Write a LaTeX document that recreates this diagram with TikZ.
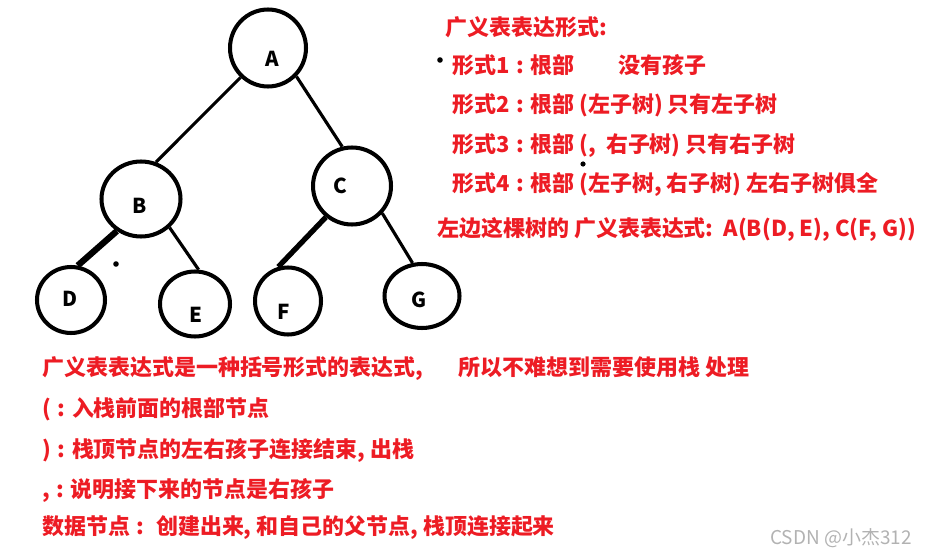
\documentclass[tikz,border=0pt]{standalone}
\usepackage{fontspec}
\setmainfont{Noto Sans CJK SC}
\usepackage{xcolor}
\usepackage{tikz}
\usetikzlibrary{shapes.geometric}
\definecolor{notered}{RGB}{237,28,36}
\definecolor{markgray}{RGB}{178,178,178}
\newcommand{\kcolon}{\hspace{.3em}:\hspace{.3em}}

\begin{document}
\begin{tikzpicture}[x=0.02cm,y=-0.02cm,
    vtx/.style={draw,ellipse,line width=2.3pt,inner sep=0pt},
    lbl/.style={inner sep=0pt,font=\bfseries\fontsize{11.7}{13}\selectfont},
    edge/.style={line width=1.8pt},
    txt/.style={anchor=west,inner sep=0pt,text=notered,
      font=\bfseries\fontsize{12.5}{14}\selectfont}]
  \useasboundingbox (0,0) rectangle (932,557);
  % the tree
  \node[vtx,minimum width=1.52cm,minimum height=1.54cm] (A) at (268,48) {};
  \node[vtx,minimum width=1.58cm,minimum height=1.50cm] (B) at (141,199) {};
  \node[vtx,minimum width=1.56cm,minimum height=1.54cm] (C) at (352,186) {};
  \node[vtx,minimum width=1.36cm,minimum height=1.32cm] (D) at (71,300) {};
  \node[vtx,minimum width=1.40cm,minimum height=1.30cm] (E) at (195,304) {};
  \node[vtx,minimum width=1.32cm,minimum height=1.34cm] (F) at (288,301) {};
  \node[vtx,minimum width=1.50cm,minimum height=1.28cm] (G) at (422,296) {};
  \node[lbl] (la) at (272,59) {A};
  \node[lbl] (lb) at (140,206) {B};
  \node[lbl] (lc) at (340,186) {C};
  \node[lbl] (ld) at (70,299) {D};
  \node[lbl] (le) at (196,315) {E};
  \node[lbl] (lf) at (284,312) {F};
  \node[lbl] (lg) at (419,300) {G};
  \draw[edge] (A.227) -- (B.68);
  \draw[edge] (A.315) -- (C.104);
  \draw[edge,line width=3.6pt] (B.233) -- (D.79);
  \draw[edge] (B.315) -- (E.84);
  \draw[edge,line width=3pt] (C.230) -- (F.106);
  \draw[edge] (C.318) -- (G.106);
  % stray dots
  \fill (116,264) circle (2.8);
  \fill (440,60) circle (2.8);
  \fill (583,164) circle (2.6);
  % the forms
  \node[txt] (t0) at (445,27) {广义表表达形式:};
  \node[txt] (t1) at (452,65) {形式1\kcolon 根部\hspace{2em}没有孩子};
  \node[txt] (t2) at (452,105) {形式2\kcolon 根部 (左子树) 只有左子树};
  \node[txt] (t3) at (452,145) {形式3\kcolon 根部 (,\ \ 右子树) 只有右子树};
  \node[txt] (t4) at (452,184) {形式4\kcolon 根部 (左子树, 右子树) 左右子树俱全};
  \node[txt] (t5) at (437,230) {左边这棵树的 广义表表达式:\ \ A(B(D, E), C(F, G))};
  % stack notes
  \node[txt] (s1) at (42,369) {广义表表达式是一种括号形式的表达式,\hspace{1.6em}所以不难想到需要使用栈 处理};
  \node[txt] (s2) at (42,409) {(\kcolon 入栈前面的根部节点};
  \node[txt] (s3) at (42,450) {)\kcolon 栈顶节点的左右孩子连接结束, 出栈};
  \node[txt] (s4) at (42,490) {,\kcolon 说明接下来的节点是右孩子};
  \node[txt] (s5) at (42,528) {数据节点\kcolon\ 创建出来, 和自己的父节点, 栈顶连接起来};
  \node[anchor=west,inner sep=0pt,text=markgray,font=\fontsize{10.8}{12}\selectfont]
    (mark) at (770,538) {CSDN @小杰312};
\end{tikzpicture}
\end{document}
